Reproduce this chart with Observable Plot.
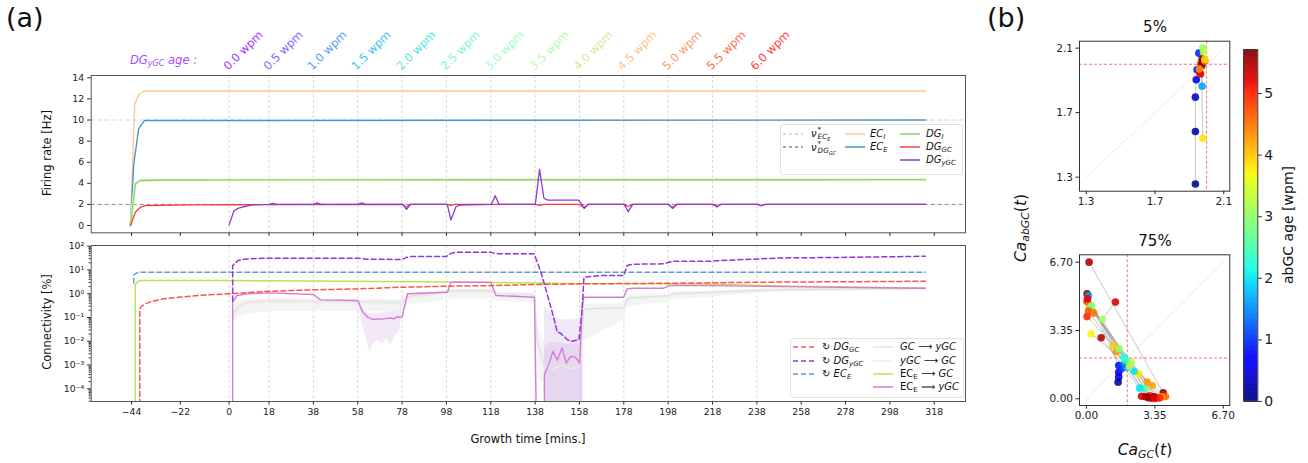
<!DOCTYPE html>
<html><head><meta charset="utf-8">
<script src="https://cdn.jsdelivr.net/npm/d3@7"></script>
<script src="https://cdn.jsdelivr.net/npm/@observablehq/plot@0.6"></script>
<style>
body{margin:0;background:#fff;font-family:"DejaVu Sans",sans-serif;}
#fig{position:relative;width:1308px;height:463px;overflow:hidden;background:#fff;}
#fig sub{font-size:0.7em;vertical-align:-0.28em;line-height:0;}
#fig i{font-style:italic;}
.box{position:absolute;background:rgba(255,255,255,0.85);border:1px solid #e2e2e2;border-radius:3px;}
</style></head><body><div id="fig"></div>
<script>
// ================= DATA =================
// (a) shared time axis
const tickVals = [-44,-22,0,18,38,58,78,98,118,138,158,178,198,218,238,258,278,298,318];
const gridVals = [0,18,38,58,78,98,118,138,158,178,198,218,238];
const wpmLabels = ["0.0 wpm","0.5 wpm","1.0 wpm","1.5 wpm","2.0 wpm","2.5 wpm","3.0 wpm","3.5 wpm","4.0 wpm","4.5 wpm","5.0 wpm","5.5 wpm","6.0 wpm"];
const rateTicks = [0,2,4,6,8,10,12,14];
const refRates = [10, 2]; // nu*_ECE, nu*_DGGC

// (a) top: firing rates [Hz]
const tEcI = [-44.5,-42.6,-40.8,-38.5,314];
const vEcI = [0,11.5,12.4,12.75,12.75];
const tEcE = [-44.5,-43,-40.8,-38.2,314];
const vEcE = [0,5.85,9.17,9.95,10.0];
const tDgI = [-44.5,-42.3,-40,-30,314];
const vDgI = [0,3.95,4.27,4.32,4.35];
const tDgGC = [-44.5,-42.3,-40,-37.7,-30,-15,0,78,80,82,98,100,102,138,140,142,158,160,162,178,180,182,198,200,202,218,220,222,238,240,242,314];
const vDgGC = [0,1.26,1.74,1.88,1.92,1.95,1.97,2,1.75,2,2,1.9,2,2,1.9,2,2,1.7,2,2,1.8,2,2,1.72,2,2,1.82,2,2,1.9,2,2];
const tDgY = [0,2.2,4,6.6,10,14,18,19.8,21.5,38,39.6,41.5,58,59.8,61.5,78.3,80,81.7,98.4,100,102.3,104,118.2,120,121.8,138.1,140,142,143.8,157.6,159.3,160.1,161.9,178.2,180,182,198.3,200,201.8,218.5,220,221.5,238.5,240,241.5,314];
const vDgY = [0.06,1.40,1.62,1.78,1.94,1.99,2.0,2.1,2.0,2.0,2.15,2.0,2.0,2.15,2.0,2.0,1.53,2.0,2.0,0.53,1.78,1.94,2.0,2.82,2.0,2.0,5.32,2.56,2.41,2.41,1.94,1.62,2.0,2.0,1.31,2.0,2.0,1.62,2.0,2.0,1.75,2.0,2.0,1.87,2.0,2.0];

// (a) bottom: connectivity [%]
const connTicks = [1e-4,1e-3,1e-2,1e-1,1,10,100];
const tRecEcE = [-43,-43,-41,314];
const vRecEcE = [2.8,6.2,8.0,8.0];
const tRecGC = [-40.3,-40.3,-39.5,-37.7,-35,-29.5,-22,-14.4,0,18,38,58,78,98,118,138,158,178,198,218,238,280,314];
const vRecGC = [1e-5,0.23,0.3,0.38,0.47,0.61,0.72,0.84,1.0,1.27,1.46,1.6,1.88,2.07,2.2,2.44,2.6,2.68,2.77,2.87,3.05,3.2,3.36];
const tRecY = [1.6,1.6,4,8,15,58,62,78,80,82,98,100,102,118,120,122,137.5,140.4,143.4,146.4,148,149.5,152.5,154.8,157.8,159.3,160,167.5,178,179.5,182,196,198.3,200.5,217,219,248.7,278.8,314];
const vRecY = [0.5,15.4,25,29,31,31,28.5,27.5,34,36.7,37,50,55.7,55.7,50,47.8,47.8,9.5,1.0,0.10,0.024,0.022,0.0115,0.0101,0.0118,0.27,4.95,5.8,5.8,15.4,17.4,18.1,21,23.3,23.3,24.2,32,34,37.8];
const tEcGC = [-42.3,-42.3,-41.2,-40,0,38,98,138,158,178,215,250,314];
const vEcGC = [1e-5,2.5,3.3,3.6,3.6,3.4,3.1,2.8,2.6,2.6,2.55,2.1,1.7];
const tEcY = [1.6,1.6,2,3.5,8,18,38,41.3,58,60.3,62.6,64.8,66.7,69,71.3,72.8,74.3,75.8,77.3,78,80.5,98.5,100,118,120.4,137.7,138.5,138.6,142.2,142.2,144.2,146.1,148,150.2,152,154,156.2,158.1,159.2,160,178,179.5,182,196,198.3,200,218.6,248.7,314];
const vEcY = [1e-5,0.44,0.5,0.84,1.0,1.09,0.93,0.55,0.52,0.167,0.103,0.082,0.087,0.085,0.092,0.095,0.087,0.11,0.10,0.105,1.0,1.16,3.05,3.05,0.84,0.71,1e-5,null,1e-5,0.0004,0.0011,0.0038,0.0016,0.0053,0.0012,0.0023,0.0021,0.0012,0.3,0.71,0.71,1.6,1.7,1.7,2.2,2.25,2.2,2.0,1.7];
const tGray = [1.6,2,4.4,8,18,58,78,80.5,98.5,100.7,118,120.4,137.7,139,142,146,150,154,158,159.5,160,178,179.5,182,198.3,200,218.6,248.7,314];
const vGcY = [0.1,0.166,0.32,0.44,0.52,0.47,0.44,0.76,1.27,1.36,1.36,1.0,0.93,0.01,0.0011,0.0009,0.0012,0.0008,0.001,0.05,0.23,0.27,0.61,0.68,0.84,1.0,1.16,1.5,1.7];
const vYGc = [0.08,0.13,0.26,0.36,0.43,0.4,0.38,0.65,1.1,1.2,1.2,0.88,0.82,0.008,0.0009,0.0007,0.001,0.0007,0.0009,0.04,0.2,0.24,0.55,0.6,0.78,0.92,1.08,1.45,1.65];
const grayHi = [0.2,0.3,0.5,0.6,0.65,0.6,0.58,0.95,1.5,1.6,1.6,1.2,1.1,0.05,0.01,0.008,0.01,0.008,0.01,0.1,0.35,0.4,0.8,0.9,1.0,1.2,1.35,1.7,1.85];
const grayLo = [0.05,0.06,0.1,0.14,0.18,0.18,0.17,0.32,0.55,0.62,0.62,0.48,0.42,0.0003,0.0002,0.0002,0.0002,0.0002,0.0002,0.005,0.01,0.08,0.25,0.3,0.45,0.55,0.75,1.15,1.45];
const tBandA = [58.5,60,62,63.5,65,67,69,71,73,75,77,78.5];
const loBandA = [0.27,0.054,0.011,0.0035,0.0078,0.011,0.0078,0.0126,0.0066,0.017,0.028,1.0];
const hiBandA = [0.6,0.3,0.17,0.14,0.15,0.15,0.16,0.16,0.17,0.18,0.2,1.0];
const tBandP = [142.2,144,146,148,150,154,158,159.5];
const hiBandP = [0.3,0.2,0.12,0.09,0.08,0.08,0.085,0.1];
const tBandO = [142.2,146,150,154,158,159.5];
const hiBandO = [0.006,0.009,0.008,0.007,0.008,0.008];
const bandFloor = 1e-5;

// (b) Ca phase plots
const refCa = 2.0;
const diag5 = [1.3, 2.1];
const diag75 = [0, 6.7];
const ticks5 = [1.3, 1.7, 2.1];
const ticks75 = [0, 3.35, 6.70];
const b5x = [1.935,1.935,1.935,1.94,1.945,1.955, 1.978,1.97, 1.974,1.975,1.978,1.982, 1.965,1.975,1.96,1.965,1.97,1.972,1.975, 1.99,1.99,1.958];
const b5y = [1.258,1.583,1.796,1.904,1.966,2.069, 1.541,1.99, 1.864,1.99,2.102,2.075, 2.0,2.02,1.95,1.94,1.99,2.0,2.03, 2.02,2.03,1.97];
const b5age = [0.1,0.2,0.35,0.45,0.6,0.9, 3.8,4.3, 1.6,2.2,3.1,3.3, 4.6,5.0,5.1,5.2,5.3,5.6,5.7, 4.5,3.9,4.3];
const b5cell = [0,0,0,0,0,0, 1,1, 2,2,2,2, 3,3,3,3,3,3,3, 4,4,4];
const b75x = [0.13,3.76, 0.03,1.47,3.05, 0.10,1.58, 0.03,1.83,3.5, 0.15,2.56,3.87, 0.2,2.2,3.65, 0.25,1.6,2.85, 0.03,2.97,2.7, 1.42,0.77,2.32,3.1, 0.23,3.22,2.9, 0.72,2.61,3.3, 1.58,1.58,1.55, 1.75,2.0,1.85, 3.2,3.35, 0.05,1.9,3.4, 0.1,1.3,3.0, 0.35,2.1,3.6];
const b75y = [6.70,0.29, 5.15,2.32,0.05, 5.05,1.63, 4.77,2.04,0.04, 4.6,1.22,0.11, 4.46,1.79,0.08, 4.55,2.45,0.5, 4.03,0.82,0.12, 4.74,3.89,1.35,0.15, 3.19,0.65,0.1, 2.99,0.52,0.1, 1.3,1.06,0.81, 1.5,1.55,1.7, 0.03,0.02, 4.9,1.9,0.06, 4.3,2.6,0.07, 4.2,1.6,0.05];
const b75age = [5.5,5.6, 5.7,4.3,5.6, 1.6,0.8, 4.9,2.2,4.9, 4.4,3.8,4.6, 3.0,3.2,3.9, 2.9,3.0,2.5, 5.0,4.3,5.3, 5.3,3.1,2.0,5.0, 3.7,4.2,5.5, 5.5,2.0,5.7, 0.7,0.5,0.2, 1.0,1.8,1.4, 5.4,5.1, 5.2,2.4,5.3, 4.7,4.0,5.5, 4.5,3.3,5.0];
const b75cell = [0,0, 1,1,1, 2,2, 3,3,3, 4,4,4, 5,5,5, 6,6,6, 7,7,7, 8,8,8,8, 9,9,9, 10,10,10, 11,11,11, 12,12,12, 13,14, 15,15,15, 16,16,16, 17,17,17];
const ageMax = 5.71;
const ageTicks = [0,1,2,3,4,5];

(function () {
// ================= HELPERS =================
const fig = document.getElementById("fig");
const FONT = "DejaVu Sans";
const zip = (t, v) => t.map((x, i) => ({x, y: v[i]}));
const band = (t, lo, hi) => t.map((x, i) => ({x, lo: Array.isArray(lo) ? lo[i] : lo, hi: hi[i]}));
function place(node, x, y) { node.style.position = "absolute"; node.style.left = x + "px"; node.style.top = y + "px"; fig.appendChild(node); return node; }
function txt(html, x, y, css = "", tf = "none") {
  const d = document.createElement("div");
  d.innerHTML = html;
  d.style.cssText = `position:absolute;left:${x}px;top:${y}px;white-space:nowrap;line-height:1;color:#111;${css}transform:${tf};`;
  fig.appendChild(d); return d;
}
function swatch(x1, x2, y, color, dash, w = 1.5) {
  const ns = "http://www.w3.org/2000/svg";
  const s = document.createElementNS(ns, "svg");
  s.setAttribute("width", x2 - x1); s.setAttribute("height", 6);
  s.style.cssText = `position:absolute;left:${x1}px;top:${y - 3}px;overflow:visible`;
  const l = document.createElementNS(ns, "line");
  l.setAttribute("x1", 0); l.setAttribute("x2", x2 - x1); l.setAttribute("y1", 3); l.setAttribute("y2", 3);
  l.setAttribute("stroke", color); l.setAttribute("stroke-width", w);
  if (dash) l.setAttribute("stroke-dasharray", dash);
  s.appendChild(l); fig.appendChild(s);
}
function rainbow(t) {
  const c = v => Math.round(255 * Math.max(0, Math.min(1, v)));
  return `rgb(${c(Math.abs(2 * t - 0.5))},${c(Math.sin(Math.PI * t))},${c(Math.cos(Math.PI * t / 2))})`;
}
function pw(pts, t) { for (let i = 1; i < pts.length; i++) if (t <= pts[i][0]) { const [a, b] = pts[i - 1], [c, d] = pts[i]; return b + (d - b) * (t - a) / (c - a); } return pts[pts.length - 1][1]; }
const JR = [[0,0],[0.35,0],[0.66,1],[0.89,1],[1,0.5]];
const JG = [[0,0],[0.125,0],[0.375,1],[0.64,1],[0.91,0],[1,0]];
const JB = [[0,0.5],[0.11,1],[0.34,1],[0.65,0],[1,0]];
const jet = t => `rgb(${Math.round(255 * pw(JR, t))},${Math.round(255 * pw(JG, t))},${Math.round(255 * pw(JB, t))})`;
const colorScale = {type: "linear", domain: [0, ageMax], interpolate: jet};
const baseStyle = {fontFamily: FONT, fontSize: "9.3px", color: "#222", background: "transparent", overflow: "visible"};
const minus = d => d < 0 ? "\u2212" + (-d) : String(d);
const supMap = {"-": "\u207B", "0": "\u2070", "1": "\u00B9", "2": "\u00B2", "3": "\u00B3", "4": "\u2074", "5": "\u2075"};
const supFmt = v => "10" + String(Math.round(Math.log10(v))).split("").map(c => supMap[c]).join("");
const minorTicks = [];
for (let e = -5; e <= 2; e++) for (let k = 2; k <= 9; k++) { const v = k * 10 ** e; if (v > 2.9e-5 && v < 107) minorTicks.push(v); }

// ================= (a) TOP =================
const xDom = [-62.2, 332.1];
const gridMark = () => Plot.ruleX(gridVals, {stroke: "#cfcfcf", strokeDasharray: "3,2", strokeWidth: 0.8});
const plotTop = Plot.plot({
  width: 975, height: 240, marginLeft: 90.7, marginRight: 10, marginTop: 75, marginBottom: 7.7,
  x: {domain: xDom}, y: {domain: [-0.69, 14.22]},
  style: baseStyle,
  marks: [
    gridMark(),
    Plot.ruleY([refRates[0]], {stroke: "#b3d4ee", strokeDasharray: "4,3", strokeWidth: 1.2}),
    Plot.ruleY([refRates[1]], {stroke: "#8a8a8a", strokeDasharray: "4,3", strokeWidth: 1}),
    Plot.line(zip(tEcI, vEcI), {x: "x", y: "y", stroke: "#ffc896", strokeWidth: 1.4}),
    Plot.line(zip(tEcE, vEcE), {x: "x", y: "y", stroke: "#4a95cf", strokeWidth: 1.4}),
    Plot.line(zip(tDgI, vDgI), {x: "x", y: "y", stroke: "#e6f6de", strokeWidth: 3}),
    Plot.line(zip(tDgI, vDgI), {x: "x", y: "y", stroke: "#86d962", strokeWidth: 1.4}),
    Plot.line(zip(tDgGC, vDgGC), {x: "x", y: "y", stroke: "#ff3a3a", strokeWidth: 1.3}),
    Plot.line(zip(tDgY, vDgY), {x: "x", y: "y", stroke: "#8a3bd6", strokeWidth: 1.3}),
    Plot.axisX({ticks: tickVals, tickSize: 3.5, tickFormat: () => "", label: null}),
    Plot.axisY({ticks: rateTicks, tickSize: 3.5, tickPadding: 3.5, label: null}),
    Plot.frame({stroke: "#555"})
  ]
});
place(plotTop, 0, 0);
// wpm labels positioned through the plot's own x scale
const xs = plotTop.scale("x");
wpmLabels.forEach((s, i) => {
  const px = xs.apply(gridVals[i]);
  const d = txt(s, px + 1, 61, `font-size:11.5px;color:${rainbow(i / 12)};opacity:0.78;transform-origin:0 100%;`, "rotate(-45deg)");
});

// ================= (a) BOTTOM =================
const plotBot = Plot.plot({
  width: 975, height: 227, marginLeft: 90.7, marginRight: 10, marginTop: 9, marginBottom: 62,
  x: {domain: xDom}, y: {type: "log", domain: [2.92e-5, 107]},
  style: baseStyle,
  marks: [
    gridMark(),
    Plot.areaY(band(tGray, grayLo, grayHi), {x: "x", y1: "lo", y2: "hi", fill: "#f3f3f3", fillOpacity: 0.9, clip: true}),
    Plot.areaY(band(tBandA, loBandA, hiBandA), {x: "x", y1: "lo", y2: "hi", fill: "#f1e6f6", fillOpacity: 0.9, clip: true}),
    Plot.areaY(band(tBandP, bandFloor, hiBandP), {x: "x", y1: "lo", y2: "hi", fill: "#f0e6f6", fillOpacity: 0.9, clip: true}),
    Plot.areaY(band(tBandO, bandFloor, hiBandO), {x: "x", y1: "lo", y2: "hi", fill: "#e3d2ee", fillOpacity: 0.8, clip: true}),
    Plot.line(zip(tGray, vYGc), {x: "x", y: "y", stroke: "#ececec", strokeWidth: 1.2, clip: true}),
    Plot.line(zip(tGray, vGcY), {x: "x", y: "y", stroke: "#e0e0e0", strokeWidth: 1.2, clip: true}),
    Plot.line(zip(tEcGC, vEcGC), {x: "x", y: "y", stroke: "#bde24f", strokeWidth: 1.5, clip: true}),
    Plot.line(zip(tEcY, vEcY), {x: "x", y: "y", stroke: "#d67cd6", strokeWidth: 1.4, clip: true}),
    Plot.line(zip(tRecEcE, vRecEcE), {x: "x", y: "y", stroke: "#5b9fd2", strokeWidth: 1.4, strokeDasharray: "5,3", clip: true}),
    Plot.line(zip(tRecGC, vRecGC), {x: "x", y: "y", stroke: "#ff5252", strokeWidth: 1.5, strokeDasharray: "5,3", clip: true}),
    Plot.line(zip(tRecY, vRecY), {x: "x", y: "y", stroke: "#9136da", strokeWidth: 1.5, strokeDasharray: "5,3", clip: true}),
    Plot.axisX({ticks: tickVals, tickSize: 3.5, tickPadding: 3.5, tickFormat: minus, label: null}),
    Plot.axisY({ticks: connTicks, tickSize: 3.5, tickPadding: 3.5, tickFormat: supFmt, label: null}),
    Plot.axisY({ticks: minorTicks, tickSize: 2, tickFormat: () => "", label: null}),
    Plot.frame({stroke: "#555"})
  ]
});
place(plotBot, 0, 236);

// ================= (b) =================
function phase(xs, ys, ages, cells, dom, ticks, fmt, diag) {
  const pts = xs.map((x, i) => ({x, y: ys[i], age: ages[i], cell: cells[i]}));
  return Plot.plot({
    width: 210, height: dom.h, marginLeft: 49, marginRight: 10.7, marginTop: dom.mt, marginBottom: 20,
    x: {domain: dom.x}, y: {domain: dom.y}, color: colorScale,
    style: {...baseStyle, fontSize: "10.5px"},
    marks: [
      Plot.line(zip(diag, diag), {x: "x", y: "y", stroke: "#dedede", strokeWidth: 0.8, strokeDasharray: "3,2"}),
      Plot.ruleX([refCa], {stroke: "#ff7070", strokeWidth: 1, strokeDasharray: "3,2"}),
      Plot.ruleY([refCa], {stroke: "#ff7070", strokeWidth: 1, strokeDasharray: "3,2"}),
      Plot.line(pts, {x: "x", y: "y", z: "cell", stroke: "#8a8a8a", strokeOpacity: 0.6, strokeWidth: 0.8}),
      Plot.dot(pts, {x: "x", y: "y", fill: "age", r: 3.8, fillOpacity: 0.88}),
      Plot.axisX({ticks, tickSize: 3.5, tickPadding: 3, tickFormat: fmt, label: null}),
      Plot.axisY({ticks, tickSize: 3.5, tickPadding: 3, tickFormat: fmt, label: null}),
      Plot.frame({stroke: "#333"})
    ]
  });
}
place(phase(b5x, b5y, b5age, b5cell, {x: [1.261, 2.135], y: [1.213, 2.143], h: 190.7, mt: 20.7}, ticks5, d => d.toFixed(1), diag5), 1030, 20);
place(phase(b75x, b75y, b75age, b75cell, {x: [-0.34, 7.02], y: [-0.33, 7.06], h: 185, mt: 14.3}, ticks75, d => d.toFixed(2), diag75), 1030, 240);

// colorbar
const cbSteps = d3.range(0, ageMax, 0.02);
const cbar = Plot.plot({
  width: 67.3, height: 371, marginLeft: 13.3, marginRight: 40, marginTop: 9.3, marginBottom: 10,
  x: {domain: [0, 1], axis: null}, y: {domain: [0, ageMax]}, color: colorScale,
  style: {...baseStyle, fontSize: "14px"},
  marks: [
    Plot.rect(cbSteps, {x1: 0, x2: 1, y1: d => d, y2: d => Math.min(d + 0.03, ageMax), fill: d => d + 0.01, fillOpacity: 0.88}),
    Plot.axisY({anchor: "right", ticks: ageTicks, tickSize: 3.5, tickPadding: 3, tickFormat: d => String(d), label: null}),
    Plot.frame({stroke: "#333"})
  ]
});
place(cbar, 1230, 40);

// ================= TEXT & LEGENDS =================
txt("(a)", 6, 4, "font-size:27px;");
txt("(b)", 987, 4, "font-size:27px;");
txt("<i>DG</i><sub><i>yGC</i></sub><i> age :</i>", 130, 55, "font-size:11.5px;color:#a64dff;");
txt("Firing rate [Hz]", 48, 153, "font-size:11.5px;", "translate(-50%,-50%) rotate(-90deg)");
txt("Connectivity [%]", 48, 322, "font-size:11.5px;", "translate(-50%,-50%) rotate(-90deg)");
txt("Growth time [mins.]", 528, 440, "font-size:11.5px;", "translate(-50%,-50%)");
txt("5%", 1155, 27, "font-size:15px;", "translate(-50%,-50%)");
txt("75%", 1155, 241, "font-size:15px;", "translate(-50%,-50%)");
txt("<i>Ca</i><sub><i>abGC</i></sub>(<i>t</i>)", 1022, 228, "font-size:15.5px;", "translate(-50%,-50%) rotate(-90deg)");
txt("<i>Ca</i><sub><i>GC</i></sub>(<i>t</i>)", 1145, 451, "font-size:15.5px;", "translate(-50%,-50%)");
txt("abGC age [wpm]", 1288, 225, "font-size:14px;", "translate(-50%,-50%) rotate(-90deg)");

// top legend
const lb1 = document.createElement("div"); lb1.className = "box";
lb1.style.cssText += "left:780px;top:124px;width:181px;height:49px;"; fig.appendChild(lb1);
const nu = sub => `<i>\u03BD</i><span style="display:inline-flex;flex-direction:column;vertical-align:middle;line-height:0.95;font-size:0.72em;margin-left:1px;"><span>*</span><span><i>${sub}</i></span></span>`;
const L = "font-size:10px;";
const mid = "translate(0,-50%)";
swatch(783, 803, 134, "#b3d4ee", "3,3", 1.3); txt(nu("EC<sub>E</sub>"), 811, 134, L, mid);
swatch(783, 803, 147, "#8a8a8a", "3,3", 1.3); txt(nu("DG<sub>GC</sub>"), 811, 148, L, mid);
swatch(845, 865, 134, "#ffc896", null); txt("<i>EC</i><sub><i>I</i></sub>", 870, 134, L, mid);
swatch(845, 865, 147, "#4a95cf", null); txt("<i>EC</i><sub><i>E</i></sub>", 870, 147, L, mid);
swatch(900, 920, 134, "#86d962", null); txt("<i>DG</i><sub><i>I</i></sub>", 926, 134, L, mid);
swatch(900, 920, 147, "#ff3a3a", null); txt("<i>DG</i><sub><i>GC</i></sub>", 926, 147, L, mid);
swatch(900, 920, 159.5, "#8a3bd6", null); txt("<i>DG</i><sub><i>yGC</i></sub>", 926, 159.5, L, mid);

// bottom legend
const lb2 = document.createElement("div"); lb2.className = "box";
lb2.style.cssText += "left:790px;top:338px;width:172px;height:58px;"; fig.appendChild(lb2);
swatch(793, 815, 347.3, "#ff5252", "5,3"); txt("\u21BB <i>DG</i><sub><i>GC</i></sub>", 822, 347.3, L, mid);
swatch(793, 815, 360.7, "#9136da", "5,3"); txt("\u21BB <i>DG</i><sub><i>yGC</i></sub>", 822, 360.7, L, mid);
swatch(793, 815, 374, "#5b9fd2", "5,3"); txt("\u21BB <i>EC</i><sub><i>E</i></sub>", 822, 374, L, mid);
swatch(873, 893, 347.3, "#e2e2e2", null); txt("<i>GC</i> \u27F6 <i>yGC</i>", 900, 347.3, L, mid);
swatch(873, 893, 360.7, "#ececec", null); txt("<i>yGC</i> \u27F6 <i>GC</i>", 900, 360.7, L, mid);
swatch(873, 893, 374, "#bde24f", null); txt("EC<sub>E</sub> \u27F6 <i>GC</i>", 900, 374, L, mid);
swatch(873, 893, 386.5, "#d67cd6", null); txt("EC<sub>E</sub> \u27F9 <i>yGC</i>", 900, 386.5, L, mid);
})();
</script></body></html>
